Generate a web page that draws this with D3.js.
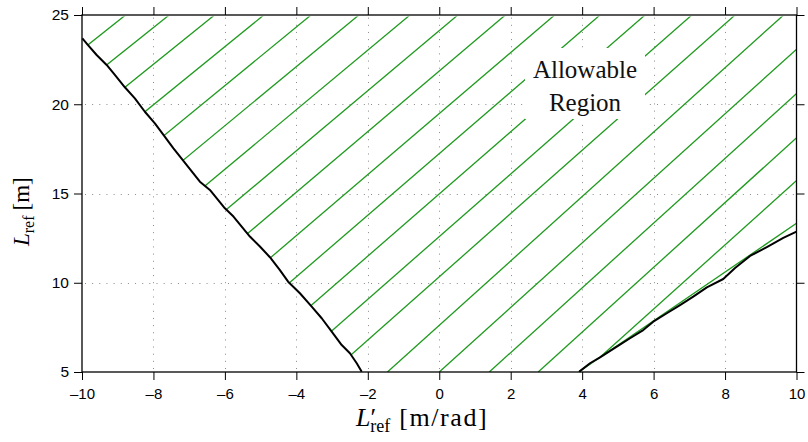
<!DOCTYPE html>
<html>
<head>
<meta charset="utf-8">
<script src="https://cdn.jsdelivr.net/npm/d3@7"></script>
<style>
  html, body { margin: 0; padding: 0; background: #fff; }
  svg { display: block; }
</style>
</head>
<body>
<svg id="chart" width="808" height="442"></svg>
<script>
// ---------------- data ----------------
const xTicks = [-10, -8, -6, -4, -2, 0, 2, 4, 6, 8, 10];
const yTicks = [5, 10, 15, 20, 25];

// left boundary curve (L'_ref, L_ref)
const leftX = [-9.99, -9.85, -9.59, -9.31, -9.08, -8.80, -8.52, -8.24, -7.96, -7.72, -7.44,
               -6.70, -6.42, -6.00, -5.76, -5.30, -5.02, -4.74, -4.46, -4.23, -3.90, -3.57,
               -3.29, -3.01, -2.73, -2.50, -2.31, -2.17];
const leftY = [23.69, 23.36, 22.76, 22.20, 21.64, 20.95, 20.33, 19.58, 18.93, 18.28, 17.53,
               15.66, 15.20, 14.17, 13.71, 12.59, 12.03, 11.43, 10.71, 10.06, 9.41, 8.66,
               8.01, 7.26, 6.51, 6.05, 5.49, 5.02];

// right boundary curve
const rightX = [3.92, 4.22, 4.50, 4.97, 5.34, 5.71, 5.99, 6.37, 6.74, 7.11, 7.49, 7.95,
                8.28, 8.70, 9.17, 9.63, 10.0];
const rightY = [5.02, 5.49, 5.82, 6.42, 6.89, 7.35, 7.82, 8.29, 8.75, 9.22, 9.74, 10.21,
                10.83, 11.50, 12.00, 12.51, 12.86];

// green support line along the right boundary
const supportX = [3.90, 10.0];
const supportY = [5.0, 13.33];

// hatch lines: L'_ref where each line crosses L_ref = 5 and L_ref = 25 (extended)
const hatchBottom = [-21.37, -20.06, -18.68, -17.20, -15.78, -14.34, -12.81, -11.37, -9.94,
                     -8.47, -7.09, -5.73, -4.32, -3.01, -1.45, 0.00, 1.40, 2.77, 4.04];
const hatchTop = [-8.78, -7.56, -6.29, -4.91, -3.59, -2.25, -0.82, 0.52, 1.85, 3.23, 4.50,
                  5.76, 7.07, 8.28, 9.64, 11.06, 12.43, 13.79, 15.16];

const regionLabel = ["Allowable", "Region"];

// ---------------- layout ----------------
const svg = d3.select("#chart");
const X0 = 82, X1 = 796.5, Y0 = 372, Y1 = 15;
const x = d3.scaleLinear().domain([-10, 10]).range([X0, X1]);
const y = d3.scaleLinear().domain([5, 25]).range([Y0, Y1]);

const green = "#1e9a1e";
const tickFont = "'Liberation Sans', Arial, Helvetica, sans-serif";
const serif = "'Liberation Serif', 'Times New Roman', serif";
const fmt = d => (d < 0 ? "\u2013" + Math.abs(d) : String(d));

// clip for the hatched region
const defs = svg.append("defs");
const clipPts = [[-10, 24.92]]
  .concat(leftX.map((v, i) => [v, leftY[i]]))
  .concat([[leftX[leftX.length - 1], 5], [rightX[0], 5]])
  .concat(rightX.map((v, i) => [v, rightY[i]]))
  .concat([[10, 24.92]]);
defs.append("clipPath").attr("id", "region")
  .append("path")
  .attr("d", "M" + clipPts.map(p => x(p[0]) + "," + y(p[1])).join("L") + "Z");
defs.append("clipPath").attr("id", "plot")
  .append("rect").attr("x", X0).attr("y", Y1).attr("width", X1 - X0).attr("height", Y0 - Y1);

// grid
const grid = svg.append("g").attr("stroke", "#8a8a8a").attr("stroke-width", 1)
  .attr("stroke-dasharray", "1,6.15");
xTicks.filter(d => d > -10 && d < 10).forEach(d => {
  grid.append("line").attr("x1", Math.round(x(d)) + 0.5).attr("x2", Math.round(x(d)) + 0.5)
    .attr("y1", Y0 - 3).attr("y2", Y1 + 2);
});
yTicks.filter(d => d > 5 && d < 25).forEach(d => {
  grid.append("line").attr("y1", Math.round(y(d)) + 0.5).attr("y2", Math.round(y(d)) + 0.5)
    .attr("x1", X0 + 3).attr("x2", X1);
});

// hatch
const hatch = svg.append("g").attr("clip-path", "url(#region)")
  .attr("stroke", green).attr("stroke-width", 1.3);
hatchBottom.forEach((b, i) => {
  hatch.append("line")
    .attr("x1", x(b)).attr("y1", y(5))
    .attr("x2", x(hatchTop[i])).attr("y2", y(25));
});

// support line
const lineGen = d3.line().x(d => x(d[0])).y(d => y(d[1]));
svg.append("path").attr("clip-path", "url(#plot)")
  .attr("d", lineGen(supportX.map((v, i) => [v, supportY[i]])))
  .attr("fill", "none").attr("stroke", green).attr("stroke-width", 1.3);

// boundary curves
[[leftX, leftY], [rightX, rightY]].forEach(([xs, ys]) => {
  svg.append("path")
    .attr("d", lineGen(xs.map((v, i) => [v, ys[i]])))
    .attr("fill", "none").attr("stroke", "#000").attr("stroke-width", 2)
    .attr("stroke-linejoin", "round");
});

// label box + text
svg.append("rect").attr("x", 525).attr("y", 48).attr("width", 120).attr("height", 71)
  .attr("fill", "#fff");
const lab = svg.append("text").attr("font-family", serif).attr("font-size", 25)
  .attr("text-anchor", "middle").attr("fill", "#111");
lab.append("tspan").attr("x", 585).attr("y", 78).text(regionLabel[0]);
lab.append("tspan").attr("x", 585).attr("y", 110.5).text(regionLabel[1]);

// axes
function styleAxis(g) {
  g.select(".domain").remove();
  g.selectAll(".tick line").attr("stroke", "#000").attr("stroke-width", 1);
  g.selectAll(".tick text").attr("font-family", tickFont).attr("font-size", 15)
    .attr("fill", "#000");
}
svg.append("g").attr("transform", `translate(0,${Y0})`)
  .call(d3.axisBottom(x).tickValues(xTicks).tickFormat(fmt).tickSize(8).tickPadding(8))
  .call(styleAxis);
svg.append("g").attr("transform", `translate(0,${Y1})`)
  .call(d3.axisTop(x).tickValues(xTicks).tickFormat("").tickSize(8))
  .call(styleAxis);
svg.append("g").attr("transform", `translate(${X0},0)`)
  .call(d3.axisLeft(y).tickValues(yTicks).tickFormat(fmt).tickSize(8).tickPadding(5))
  .call(styleAxis)
  .selectAll(".tick text").attr("font-size", 15.5);
svg.append("g").attr("transform", `translate(${X1},0)`)
  .call(d3.axisRight(y).tickValues(yTicks).tickFormat("").tickSize(8))
  .call(styleAxis);

// frame
svg.append("rect").attr("x", X0).attr("y", Y1).attr("width", X1 - X0).attr("height", Y0 - Y1)
  .attr("fill", "none").attr("stroke", "#000").attr("stroke-width", 1.3);

// axis titles
const xt = svg.append("text").attr("font-family", serif).attr("font-size", 26)
  .attr("x", 356).attr("y", 426).attr("fill", "#000");
xt.append("tspan").attr("font-style", "italic").text("L");
xt.append("tspan").attr("dx", 0).text("\u2032");
xt.append("tspan").attr("font-size", 18).attr("dy", 6).attr("dx", -6).text("ref");
xt.append("tspan").attr("dy", -6).attr("dx", 9).attr("letter-spacing", 1.6).text("[m/rad]");

const yt = svg.append("text").attr("font-family", serif).attr("font-size", 23)
  .attr("transform", "translate(29,246) rotate(-90)").attr("fill", "#000");
yt.append("tspan").attr("font-style", "italic").text("L");
yt.append("tspan").attr("font-size", 16).attr("dy", 5).text("ref");
yt.append("tspan").attr("dy", -5).attr("dx", 5).text("[m]");
</script>
</body>
</html>
